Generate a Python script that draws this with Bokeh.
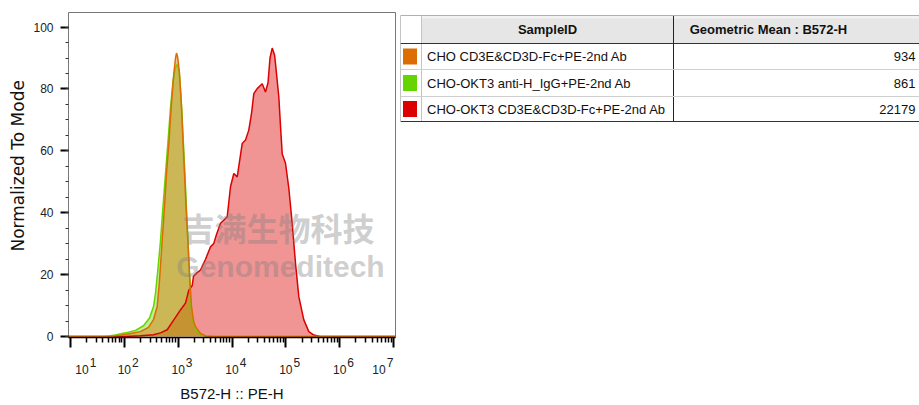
import numpy as np
from bokeh.plotting import figure
from bokeh.models import Range1d, FixedTicker, Label, LinearAxis, Title
from bokeh.layouts import row
from bokeh.embed import file_html
from bokeh.resources import INLINE
from bokeh.core.properties import value

# ---------------- data (x in decades = log10 of B572-H :: PE-H) ----------------
orange_x = [0.96, 1.743, 1.929, 2.115, 2.300, 2.449, 2.542, 2.611, 2.653, 2.703, 2.746,
            2.783, 2.830, 2.871, 2.919, 2.951, 2.969, 2.988, 3.006, 3.025, 3.062,
            3.090, 3.118, 3.146, 3.179, 3.211, 3.248, 3.285, 3.322, 3.415, 3.508,
            3.694, 7.04]
orange_y = [0, 0, 0.4, 1.0, 1.6, 3.0, 5.5, 9.7, 18, 31, 42,
            52.7, 63, 74.2, 85, 90, 91.6, 90.5, 88, 85, 74.2,
            63, 52.7, 42, 31.2, 20, 9.7, 5, 3.2, 1.0, 0.2,
            0, 0]

green_x = [0.96, 1.650, 1.836, 2.022, 2.207, 2.356, 2.468, 2.542, 2.579, 2.625, 2.672,
           2.718, 2.765, 2.811, 2.858, 2.908, 2.951, 2.988, 3.016, 3.043, 3.071,
           3.099, 3.127, 3.155, 3.183, 3.211, 3.239, 3.276, 3.322, 3.415, 3.508,
           3.638, 7.04]
green_y = [0, 0, 0.5, 1.2, 2.0, 3.5, 6, 9.7, 14, 22, 31,
           42, 52.7, 63, 74, 83, 87, 88, 86, 80, 72,
           62, 52, 41, 31, 20, 10, 5, 2.5, 0.8, 0.1,
           0, 0]

red_x = [0.96, 2.022, 2.300, 2.542, 2.672, 2.796, 2.919, 3.043, 3.136, 3.198, 3.261,
         3.285, 3.341, 3.415, 3.508, 3.601, 3.662, 3.712, 3.786, 3.842, 3.911,
         3.972, 4.034, 4.097, 4.190, 4.251, 4.312, 4.362, 4.405, 4.468, 4.561,
         4.622, 4.669, 4.706, 4.747, 4.790, 4.808, 4.870, 4.901, 4.933, 4.994,
         5.055, 5.118, 5.180, 5.241, 5.334, 5.427, 5.520, 5.644, 7.04]
red_y = [0, 0, 0.3, 0.6, 1.2, 2.2, 5.4, 8.6, 10.8, 15, 16.5,
         19.5, 20.5, 21.5, 25, 29, 30.1, 33, 36.6, 37.5, 38.7,
         48.4, 52.7, 51.6, 62.4, 63.5, 66.7, 72, 78.5, 80.1, 81.7,
         79, 82, 90, 93.2, 91, 88.2, 77.4, 68, 59, 56,
         48, 36.6, 23.6, 12.9, 5.4, 1.6, 0.5, 0, 0]

sample_ids = ["CHO CD3E&CD3D-Fc+PE-2nd Ab",
              "CHO-OKT3 anti-H_IgG+PE-2nd Ab",
              "CHO-OKT3 CD3E&CD3D-Fc+PE-2nd Ab"]
geo_means = ["934", "861", "22179"]
sample_colors = ["#DC6D00", "#66D400", "#DC0000"]

decades = [1, 2, 3, 4, 5, 6, 7]
decade_exps = ["1", "2", "3", "4", "5", "6", "7"]
y_ticks = [0, 20, 40, 60, 80, 100]
x_title = "B572-H :: PE-H"
y_title = "Normalized To Mode"
col_headers = ["SampleID", "Geometric Mean : B572-H"]

# ---------------- histogram figure ----------------
FONT = "Liberation Sans"
X_START, X_END = 0.963, 7.037
FRAME_W = 327
BORDER_TOP, BORDER_BOTTOM = 12, 68
p = figure(width=400, height=405, output_backend="svg", toolbar_location=None, title=None,
           x_range=Range1d(X_START, X_END), y_range=Range1d(-0.3, 104.7),
           min_border_left=68, min_border_right=5,
           min_border_top=BORDER_TOP, min_border_bottom=BORDER_BOTTOM)
p.grid.visible = False
p.outline_line_color = "#777777"
p.outline_line_width = 1
p.background_fill_color = "white"
p.border_fill_color = "white"

series = [(red_x, red_y, sample_colors[2]),
          (green_x, green_y, sample_colors[1]),
          (orange_x, orange_y, sample_colors[0])]
for xs, ys, c in series:
    p.varea(x=xs, y1=0, y2=ys, fill_color=c, fill_alpha=0.42)
for xs, ys, c in series:
    p.line(x=xs, y=ys, line_color=c, line_width=1.5)

# y axis
p.yaxis.ticker = FixedTicker(ticks=y_ticks, minor_ticks=list(range(0, 105, 5)))
p.yaxis.axis_line_color = None
p.yaxis.major_tick_out = 8
p.yaxis.major_tick_in = 0
p.yaxis.major_tick_line_width = 2
p.yaxis.major_tick_line_color = "black"
p.yaxis.minor_tick_out = 3
p.yaxis.minor_tick_in = 0
p.yaxis.minor_tick_line_width = 1
p.yaxis.minor_tick_line_color = "#333333"
p.yaxis.major_label_standoff = 7
p.yaxis.major_label_text_font = FONT
p.yaxis.major_label_text_font_size = "12px"
p.yaxis.major_label_text_color = "#222222"

# x axis: ticks only (log-decade positions)
minor = [d + np.log10(k) for d in decades[:-1] for k in range(2, 10)]
p.xaxis.ticker = FixedTicker(ticks=decades, minor_ticks=minor)
p.xaxis.major_label_overrides = {d: "" for d in decades}
p.xaxis.major_label_standoff = 0
p.xaxis.axis_line_color = "black"
p.xaxis.axis_line_width = 1.5
p.xaxis.major_tick_out = 10
p.xaxis.major_tick_in = 0
p.xaxis.major_tick_line_width = 2
p.xaxis.major_tick_line_color = "black"
p.xaxis.minor_tick_out = 5
p.xaxis.minor_tick_in = 0
p.xaxis.minor_tick_line_width = 1.5
p.xaxis.minor_tick_line_color = "black"

# decade labels 10^n as two label rows (exponent raised above "10")
px_per_dec = FRAME_W / (X_END - X_START)
shift_px = {1: 11.5, 7: -14.5}
base_pos = [round(d + shift_px.get(d, 0) / px_per_dec, 4) for d in decades]
exp_pos = [round(d + (shift_px.get(d, 0) + 11) / px_per_dec, 4) for d in decades]


def label_axis(positions, texts, standoff):
    ax = LinearAxis(ticker=FixedTicker(ticks=positions, minor_ticks=[]))
    ax.major_label_overrides = dict(zip(positions, texts))
    ax.axis_line_color = None
    ax.major_tick_line_color = None
    ax.minor_tick_line_color = None
    ax.major_tick_out = 0
    ax.major_tick_in = 0
    ax.major_label_standoff = standoff
    ax.major_label_text_font = FONT
    ax.major_label_text_font_size = "12px"
    ax.major_label_text_color = "#222222"
    return ax


exp_axis = label_axis(exp_pos, decade_exps, 10)
p.add_layout(exp_axis, "below")
ten_axis = label_axis(base_pos, ["10"] * len(decades), -5)
ten_axis.axis_label = x_title
ten_axis.axis_label_standoff = 8
ten_axis.axis_label_text_font = FONT
ten_axis.axis_label_text_font_style = "normal"
ten_axis.axis_label_text_font_size = "15px"
ten_axis.axis_label_text_color = "#111111"
p.add_layout(ten_axis, "below")

# y title
p.add_layout(Title(text=y_title, align="left", offset=86, standoff=5,
                   text_font="DejaVu Sans", text_font_style="normal",
                   text_font_size="17px", text_color="#111111"), "left")

# watermark
p.add_layout(Label(x=210, y=111, x_units="screen", y_units="screen", text="吉满生物科技",
                   text_align="center", text_baseline="middle", text_font="Noto Sans CJK SC",
                   text_font_style="bold", text_font_size="32px",
                   text_color="#808080", text_alpha=0.4))
p.add_layout(Label(x=212, y=71, x_units="screen", y_units="screen", text="Genomeditech",
                   text_align="center", text_baseline="middle", text_font=FONT,
                   text_font_style="bold", text_font_size="30px",
                   text_color="#808080", text_alpha=0.4))

# ---------------- table figure (coordinates = page pixels) ----------------
t = figure(width=519, height=405, output_backend="svg", toolbar_location=None, title=None,
           x_range=Range1d(400, 919), y_range=Range1d(405 - BORDER_BOTTOM, BORDER_TOP),
           min_border_left=0, min_border_right=0,
           min_border_top=BORDER_TOP, min_border_bottom=BORDER_BOTTOM,
           x_axis_location=None, y_axis_location=None)
t.grid.visible = False
t.outline_line_color = None
t.background_fill_color = "white"
t.border_fill_color = "white"

X0, X1, X2, X3 = 400, 421, 673, 940
Y0, Y1 = 15, 43
row_edges = [43, 69, 96, 121]
row_mid = [(a + b) / 2 for a, b in zip(row_edges[:-1], row_edges[1:])]

t.quad(left=X1, right=X3, top=Y0, bottom=Y1, fill_color="#e6e6e6", line_color=None)
t.quad(left=X1, right=X3, top=Y0, bottom=Y0 + 3, fill_color="#f2f2f2", line_color=None)
t.segment(x0=[X0, X1], y0=[Y0, Y0], x1=[X0, X1], y1=[row_edges[-1]] * 2,
          line_color=["#8a8a8a", "#c4c4c4"], line_width=1)
t.segment(x0=[X2], y0=[Y0], x1=[X2], y1=[row_edges[-1]], line_color="#222222", line_width=1)
t.segment(x0=[X0], y0=[Y0], x1=[X3], y1=[Y0], line_color="#b0b0b0", line_width=1)
t.segment(x0=[X0, X0], y0=[row_edges[0], row_edges[-1]], x1=[X3, X3],
          y1=[row_edges[0], row_edges[-1]], line_color="#333333", line_width=1)
t.segment(x0=[X0] * 2, y0=row_edges[1:3], x1=[X3] * 2, y1=row_edges[1:3],
          line_color="#cfcfcf", line_width=1)

t.text(x=[(X1 + X2) / 2, 768], y=[(Y0 + Y1) / 2] * 2, text=col_headers,
       text_font=value(FONT), text_font_style="bold", text_font_size="13px",
       text_align="center", text_baseline="middle", text_color="#111111")
t.rect(x=[(X0 + X1) / 2 - 1] * 3, y=row_mid, width=14, height=16,
       fill_color=sample_colors, line_color=None)
t.text(x=[X1 + 5.5] * 3, y=row_mid, text=sample_ids,
       text_font=value(FONT), text_font_size="13px",
       text_align="left", text_baseline="middle", text_color="#111111")
t.text(x=[915] * 3, y=row_mid, text=geo_means,
       text_font=value(FONT), text_font_size="13px",
       text_align="right", text_baseline="middle", text_color="#111111")

layout = row(p, t)
open("out.html", "w").write(file_html(layout, INLINE))
